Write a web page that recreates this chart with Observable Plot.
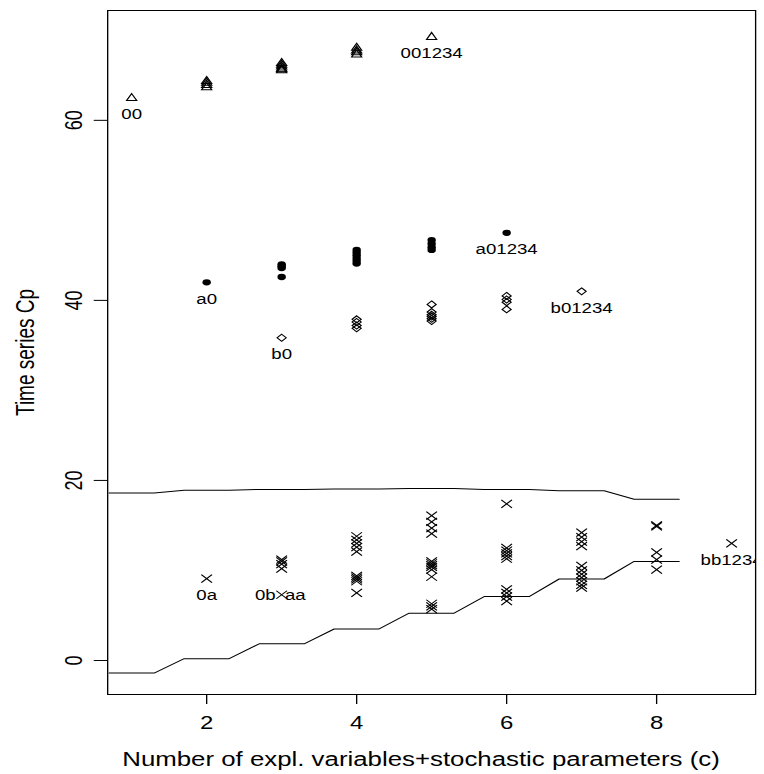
<!DOCTYPE html>
<html>
<head>
<meta charset="utf-8">
<script src="https://cdn.jsdelivr.net/npm/d3@7"></script>
<script src="https://cdn.jsdelivr.net/npm/@observablehq/plot@0.6"></script>
<style>
  html, body { margin: 0; padding: 0; background: #fff; }
  #chart { width: 764px; height: 774px; overflow: hidden; background: #fff; }
</style>
</head>
<body>
<div id="chart"></div>
<script>
// ---------- data ----------
const xTitle = "Number of expl. variables+stochastic parameters (c)";
const yTitle = "Time series Cp";
const xTicks = [2, 4, 6, 8];
const yTicks = [0, 20, 40, 60];

const triangleC = [1, 2, 3, 4, 5];
const triangleCp = [[62.5], [64.4, 64.2, 63.95, 63.7], [66.4, 66.2, 66.0, 65.8, 65.7, 65.6], [68.1, 67.8, 67.6, 67.35], [69.3]];

const circleC = [2, 3, 4, 5, 6];
const circleCp = [[42.0], [44.0, 43.8, 43.6, 42.6], [45.6, 45.3, 45.0, 44.7, 44.4, 44.1], [46.7, 46.3, 45.9, 45.6], [47.5]];

const diamondC = [3, 4, 5, 6, 7];
const diamondCp = [[35.85], [37.9, 37.6, 37.2, 36.9], [39.55, 38.7, 38.4, 38.2, 37.95, 37.7], [40.5, 40.1, 39.8, 39.0], [41.0]];

const crossC = [2, 3, 4, 5, 6, 7, 8, 9];
const crossCp = [
  [9.1],
  [11.2, 11.0, 10.7, 10.2, 7.3],
  [13.8, 13.4, 13.0, 12.6, 12.1, 9.4, 9.2, 9.0, 8.8, 7.5],
  [16.1, 15.4, 14.7, 14.1, 11.0, 10.8, 10.6, 10.4, 10.1, 9.3, 6.3, 6.0, 5.7],
  [17.4, 12.5, 12.2, 11.9, 11.6, 11.3, 7.9, 7.5, 7.1, 6.6],
  [14.2, 13.7, 13.2, 12.7, 10.5, 10.0, 9.6, 9.2, 8.8, 8.4, 8.1],
  [15.0, 14.9, 12.0, 11.2, 10.1],
  [13.0]
];

// reference lines (one level per c)
const lineC = [1, 2, 3, 4, 5, 6, 7, 8];
const upperLine = [18.6, 18.9, 19.0, 19.05, 19.1, 19.0, 18.85, 17.9];
const lowerLine = [-1.4, 0.2, 1.85, 3.5, 5.25, 7.1, 9.05, 11.0];

// labels placed under their point
const labelText = ["00", "001234", "a0", "a01234", "b0", "b01234", "0a", "bb1234"];
const labelC = [1, 5, 2, 6, 3, 7, 2, 9];
const labelCp = [62.5, 69.3, 42.0, 47.5, 35.85, 41.0, 9.1, 13.0];
// labels placed beside the point c=3, Cp=7.3
const sideLabelLeft = ["0b"];
const sideLabelRight = ["aa"];
const sideC = [3];
const sideCp = [7.3];

// ---------- helpers ----------
function flatten(cs, vals) {
  const out = [];
  cs.forEach((c, i) => vals[i].forEach(v => out.push({c, cp: v})));
  return out;
}
function steps(cs, vals, half) {
  const out = [];
  cs.forEach((c, i) => { out.push({c: c - half, cp: vals[i]}); out.push({c: c + half, cp: vals[i]}); });
  return out;
}

const symCross = { draw(ctx, size) { const r = Math.sqrt(size / Math.PI);
  ctx.moveTo(-r, -r); ctx.lineTo(r, r); ctx.moveTo(-r, r); ctx.lineTo(r, -r); } };
const symTriangle = { draw(ctx, size) { const r = Math.sqrt(size / Math.PI);
  ctx.moveTo(0, -1.05 * r); ctx.lineTo(0.95 * r, 0.7 * r); ctx.lineTo(-0.95 * r, 0.7 * r); ctx.closePath(); } };
const symDiamond = { draw(ctx, size) { const r = Math.sqrt(size / Math.PI);
  ctx.moveTo(0, -0.875 * r); ctx.lineTo(0.85 * r, 0); ctx.lineTo(0, 0.875 * r); ctx.lineTo(-0.85 * r, 0); ctx.closePath(); } };
const symDisc = { draw(ctx, size) { const r = Math.sqrt(size / Math.PI) * 0.79;
  ctx.moveTo(r, 0); ctx.arc(0, 0, r, 0, 2 * Math.PI); ctx.closePath(); } };

const W0 = 574;           // drawing width before the horizontal stretch
const stretch = 764 / W0;

const labels = labelText.map((t, i) => ({t, c: labelC[i], cp: labelCp[i]}));
const leftSide = sideLabelLeft.map((t, i) => ({t, c: sideC[i], cp: sideCp[i]}));
const rightSide = sideLabelRight.map((t, i) => ({t, c: sideC[i], cp: sideCp[i]}));

const font = "'Liberation Sans', Arial, Helvetica, sans-serif";

const chart = Plot.plot({
  width: W0,
  height: 774,
  marginLeft: 80.4,
  marginRight: 6.8,
  marginTop: 10,
  marginBottom: 80,
  style: {fontFamily: font, fontSize: "14px", background: "#fff", color: "#000"},
  x: {domain: [0.68, 9.32], axis: null},
  y: {domain: [-3.78, 72.2], axis: null},
  marks: [
    Plot.frame({stroke: "#000", strokeWidth: 1}),
    Plot.axisX({ticks: xTicks, tickSize: 10, tickPadding: 12, fontSize: 18, label: null, stroke: "#000", fill: "#000"}),
    Plot.axisY({ticks: yTicks, tickSize: 10, label: null, stroke: "#000", fill: "none"}),
    Plot.text(yTicks, {y: d => d, text: d => String(d), frameAnchor: "left", textAnchor: "middle", lineAnchor: "middle", dx: -24.8, rotate: -90, fontSize: 18, fill: "#000"}),
    Plot.text([xTitle], {text: d => d, frameAnchor: "bottom", textAnchor: "middle", lineAnchor: "middle", dy: 65, dx: -8, fontSize: 19.4, fill: "#000"}),
    Plot.text([yTitle], {text: d => d, frameAnchor: "left", textAnchor: "middle", lineAnchor: "middle", dx: -61.6, rotate: -90, fontSize: 19, fill: "#000"}),

    Plot.line(steps(lineC, upperLine, 0.3), {x: "c", y: "cp", stroke: "#000", strokeWidth: 1}),
    Plot.line(steps(lineC, lowerLine, 0.3), {x: "c", y: "cp", stroke: "#000", strokeWidth: 1}),

    Plot.dot(flatten(triangleC, triangleCp), {x: "c", y: "cp", symbol: symTriangle, r: 4, stroke: "#000", fill: "none", strokeWidth: 1}),
    Plot.dot(flatten(circleC, circleCp), {x: "c", y: "cp", symbol: symDisc, r: 4, stroke: "none", fill: "#000"}),
    Plot.dot(flatten(diamondC, diamondCp), {x: "c", y: "cp", symbol: symDiamond, r: 4, stroke: "#000", fill: "none", strokeWidth: 1}),
    Plot.dot(flatten(crossC, crossCp), {x: "c", y: "cp", symbol: symCross, r: 4, stroke: "#000", fill: "none", strokeWidth: 1}),

    Plot.text(labels, {x: "c", y: "cp", text: "t", dy: 17, fontSize: 14, fill: "#000", clip: true}),
    Plot.text(leftSide, {x: "c", y: "cp", text: "t", dy: 1, dx: -4.5, textAnchor: "end", fontSize: 14, fill: "#000"}),
    Plot.text(rightSide, {x: "c", y: "cp", text: "t", dy: 1, dx: 2.5, textAnchor: "start", fontSize: 14, fill: "#000"})
  ]
});

chart.style.transform = `scale(${stretch}, 1)`;
chart.style.transformOrigin = "0 0";
chart.style.display = "block";
document.getElementById("chart").appendChild(chart);
</script>
</body>
</html>
